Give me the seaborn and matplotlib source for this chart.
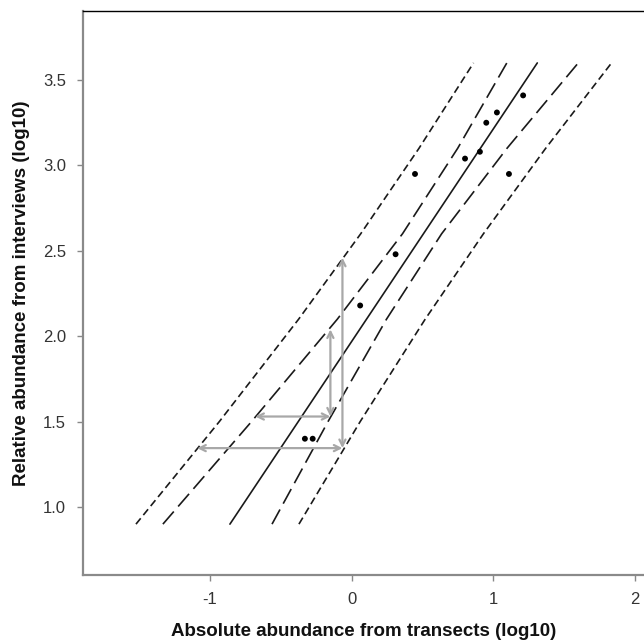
import numpy as np
import pandas as pd
import matplotlib
matplotlib.use("Agg")
import matplotlib.pyplot as plt
import seaborn as sns

# observed species: transects (x) vs interviews (y), both log10
transect_log = [-0.33, -0.275, 0.06, 0.31, 0.447, 0.80, 0.905, 0.95, 1.025, 1.21, 1.11]
interview_log = [1.40, 1.40, 2.18, 2.48, 2.95, 3.04, 3.08, 3.25, 3.31, 3.41, 2.95]

# fitted line (straight)
fit_y = [0.9, 3.6]
fit_x = [-0.859, 1.31]

# interval lines, x read at these y levels
band_y = [0.9, 1.5, 2.1, 2.6, 3.1, 3.6]
outer_left_x = [-1.522, -0.934, -0.374, 0.064, 0.475, 0.860]
inner_left_x = [-1.332, -0.707, -0.101, 0.359, 0.748, 1.095]
inner_right_x = [-0.562, -0.167, 0.246, 0.635, 1.096, 1.599]
outer_right_x = [-0.372, 0.060, 0.519, 0.930, 1.369, 1.834]

# grey double arrows (x0, y0, x1, y1)
arrow_long_v = [-0.065, 1.345, -0.065, 2.46]
arrow_long_h = [-1.09, 1.345, -0.065, 1.345]
arrow_short_v = [-0.15, 1.53, -0.15, 2.04]
arrow_short_h = [-0.68, 1.53, -0.15, 1.53]

x_ticks = [-1, 0, 1, 2]
y_ticks = [1.0, 1.5, 2.0, 2.5, 3.0, 3.5]

sns.set_theme(style="white")
plt.rcParams['font.family'] = ['Liberation Sans', 'DejaVu Sans']

fig = plt.figure(figsize=(6.44, 6.44), dpi=100)
ax = fig.add_axes([0.1284, 0.1071, 0.8716, 0.8758])

n = len(band_y)
lines = pd.DataFrame({
    "y": band_y * 4 + fit_y,
    "x": outer_left_x + inner_left_x + inner_right_x + outer_right_x + fit_x,
    "kind": ["ol"] * n + ["il"] * n + ["ir"] * n + ["or"] * n + ["fit"] * 2,
})
short_dash = (0, (4.5, 2.5))
long_dash = (0, (10, 4))
styles = {"ol": short_dash, "il": long_dash, "fit": "-",
          "ir": long_dash, "or": short_dash}
for kind, grp in lines.groupby("kind", sort=False):
    sns.lineplot(data=grp, x="x", y="y", ax=ax, color="#1a1a1a", lw=1.2,
                 linestyle=styles[kind], sort=False, estimator=None)

for a in [arrow_long_v, arrow_long_h, arrow_short_v, arrow_short_h]:
    ax.annotate("", xy=(a[2], a[3]), xytext=(a[0], a[1]),
                arrowprops=dict(arrowstyle="<->", color="#a8a8a8", lw=1.6,
                                shrinkA=0, shrinkB=0, mutation_scale=11))

sns.scatterplot(x=transect_log, y=interview_log, ax=ax, color="black", s=18,
                edgecolor="none", zorder=5)

ax.set_xlim(-1.898, 2.063)
ax.set_ylim(0.602, 3.904)
ax.set_xticks(x_ticks)
ax.set_xticklabels([str(t) for t in x_ticks])
ax.set_yticks(y_ticks)
ax.set_yticklabels([f"{t:.1f}" for t in y_ticks])
ax.tick_params(axis="both", direction="out", length=4, width=1, color="#888888",
               labelsize=12, labelcolor="#333333", pad=8, bottom=True, left=True)

for side in ["left", "bottom"]:
    ax.spines[side].set_color("#8a8a8a")
    ax.spines[side].set_linewidth(1.6)
ax.spines["top"].set_color("black")
ax.spines["top"].set_linewidth(1.0)
ax.spines["right"].set_visible(False)

ax.set_xlabel("Absolute abundance from transects (log10)", fontsize=13.5,
              fontweight="bold", color="#111111", labelpad=12)
ax.set_ylabel("Relative abundance from interviews (log10)", fontsize=13.5,
              fontweight="bold", color="#111111", labelpad=9)

fig.savefig("out.png", dpi=100)
